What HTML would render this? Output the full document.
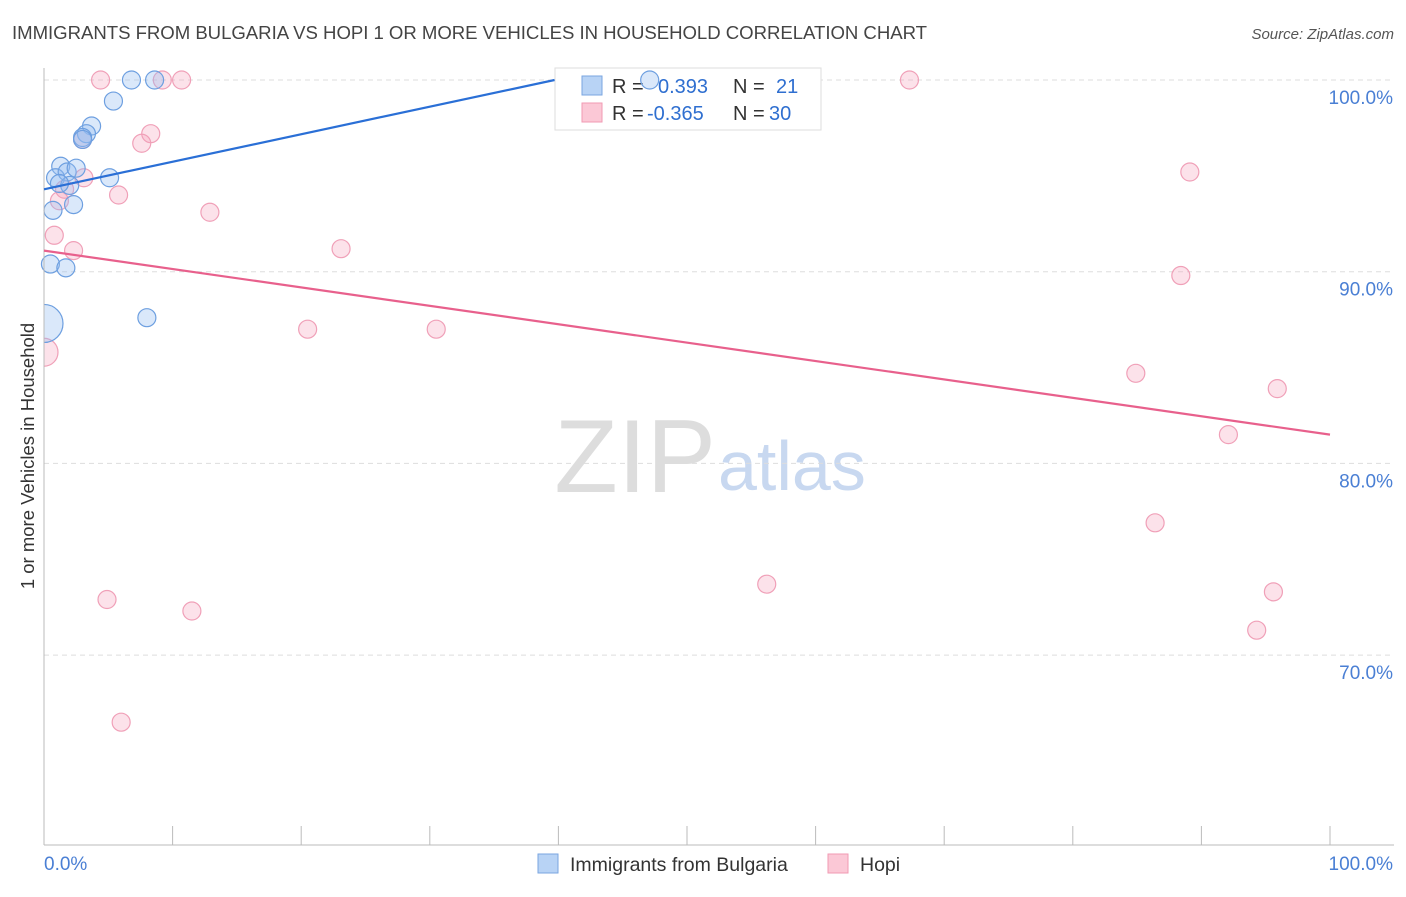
<!DOCTYPE html>
<html><head><meta charset="utf-8"><style>
body{margin:0;background:#fff;font-family:"Liberation Sans",sans-serif;}
svg text{font-family:"Liberation Sans",sans-serif;}
</style></head><body>
<svg id="c" width="1406" height="892">
<text x="12" y="39" font-size="18.6" fill="#444" textLength="915">IMMIGRANTS FROM BULGARIA VS HOPI 1 OR MORE VEHICLES IN HOUSEHOLD CORRELATION CHART</text>
<text x="1394" y="39" font-size="15" fill="#555" font-style="italic" text-anchor="end">Source: ZipAtlas.com</text>
<text x="716" y="492" font-size="104" fill="#ddd" text-anchor="end" font-family="Liberation Serif">ZIP</text>
<text x="718" y="490" font-size="70" fill="#c8d8f0">atlas</text>
<g id="grid"></g>
<g>
<rect x="555" y="68" width="266" height="62" fill="#fff" stroke="#ddd"/>
<rect x="582" y="76" width="20" height="19" fill="#b8d3f5" stroke="#7aa6e0"/>
<rect x="582" y="103" width="20" height="19" fill="#fbc8d6" stroke="#f09ab3"/>
<text x="612" y="93" font-size="20" fill="#333">R = </text><text x="658" y="93" font-size="20" fill="#2f6fd0">0.393</text>
<text x="733" y="93" font-size="20" fill="#333">N = </text><text x="776" y="93" font-size="20" fill="#2f6fd0">21</text>
<text x="612" y="120" font-size="20" fill="#333">R = </text><text x="647" y="120" font-size="20" fill="#2f6fd0">-0.365</text>
<text x="733" y="120" font-size="20" fill="#333">N = </text><text x="769" y="120" font-size="20" fill="#2f6fd0">30</text>
</g>
<g id="pts"></g>
<rect x="0" y="290" width="43.5" height="85" fill="#fff"/>
<line x1="44" y1="68" x2="44" y2="845" stroke="#bbb"/>
<text x="0" y="0" transform="translate(34,456) rotate(-90)" font-size="18.5" fill="#333" text-anchor="middle">1 or more Vehicles in Household</text>
<g id="lines"></g>
<g>
<rect x="538" y="854" width="20" height="19" fill="#b8d3f5" stroke="#7aa6e0"/>
<text x="570" y="871" font-size="19.5" fill="#333">Immigrants from Bulgaria</text>
<rect x="828" y="854" width="20" height="19" fill="#fbc8d6" stroke="#f09ab3"/>
<text x="860" y="871" font-size="19.5" fill="#333">Hopi</text>
</g>
</svg>
<script>
const yTicks=[100,90,80,70];
const xTickLabels=["0.0%","100.0%"];
const blueX=[6.8,8.6,47.1,5.4,3.7,3.3,3.0,3.0,1.3,0.9,1.8,2.5,2.0,1.2,5.1,0.7,2.3,0.5,1.7,8.0,0];
const blueY=[100,100,100,98.9,97.6,97.2,97.0,96.9,95.5,94.9,95.2,95.4,94.5,94.6,94.9,93.2,93.5,90.4,90.2,87.6,87.3];
const pinkX=[4.4,9.2,10.7,67.3,8.3,7.6,3.0,3.1,1.6,1.2,5.8,12.9,0.8,2.3,23.1,20.5,30.5,0,89.1,88.4,84.9,95.9,92.1,86.4,56.2,95.6,4.9,11.5,94.3,6.0];
const pinkY=[100,100,100,100,97.2,96.7,96.9,94.9,94.3,93.7,94.0,93.1,91.9,91.1,91.2,87.0,87.0,85.8,95.2,89.8,84.7,83.9,81.5,76.9,73.7,73.3,72.9,72.3,71.3,66.5];
const blueLine=[94.3,100];const blueLineX=[0,39.7];
const pinkLine=[91.1,81.5];const pinkLineX=[0,100];
const NS="http://www.w3.org/2000/svg";
const X=v=>44+v*12.86, Y=v=>80+(100-v)*19.17;
function mk(t,a,p){const e=document.createElementNS(NS,t);for(const k in a)e.setAttribute(k,a[k]);p.appendChild(e);return e;}
const g=document.getElementById('grid');
mk('line',{x1:44,y1:845,x2:1394,y2:845,stroke:'#bbb'},g);
for(let i=1;i<=10;i++){mk('line',{x1:X(i*10),y1:826,x2:X(i*10),y2:845,stroke:'#bbb'},g);}
yTicks.forEach(v=>{
const l=mk('line',{x1:44,y1:Y(v),x2:1394,y2:Y(v),stroke:'#ddd','stroke-dasharray':'5,4'},g);


const t=mk('text',{x:1393,y:Y(v)+24,'font-size':19,fill:'#4a7fd4','text-anchor':'end'},g);t.textContent=v.toFixed(1)+'%';


});
const t0=mk('text',{x:44,y:870,'font-size':19,fill:'#4a7fd4'},g);t0.textContent=xTickLabels[0];


const t1=mk('text',{x:1393,y:870,'font-size':19,fill:'#4a7fd4','text-anchor':'end'},g);t1.textContent=xTickLabels[1];


const p=document.getElementById('pts');
pinkX.forEach((x,i)=>{const c=mk('circle',{cx:X(x),cy:Y(pinkY[i]),r:x===0?14:9,fill:'rgba(245,160,185,0.3)',stroke:'#f0a0b8','stroke-width':1.2},p);

});
blueX.forEach((x,i)=>{const c=mk('circle',{cx:X(x),cy:Y(blueY[i]),r:x===0?19:9,fill:'rgba(150,190,240,0.35)',stroke:'#6d9fe0','stroke-width':1.2},p);

});
const L=document.getElementById('lines');
const bl=mk('line',{x1:X(blueLineX[0]),y1:Y(blueLine[0]),x2:X(blueLineX[1]),y2:Y(blueLine[1]),stroke:'#2a6fd6','stroke-width':2.2},L);


const pl=mk('line',{x1:X(pinkLineX[0]),y1:Y(pinkLine[0]),x2:X(pinkLineX[1]),y2:Y(pinkLine[1]),stroke:'#e8608c','stroke-width':2.2},L);


</script>
</body></html>
